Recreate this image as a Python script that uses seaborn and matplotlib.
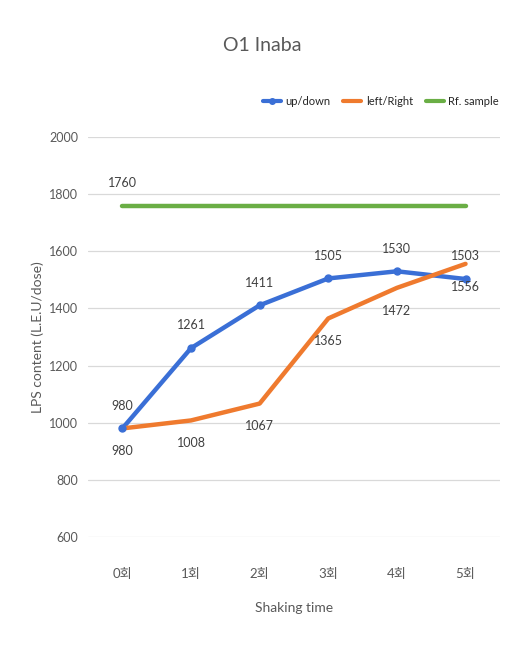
import matplotlib
matplotlib.use("Agg")
import matplotlib.pyplot as plt
import seaborn as sns
import pandas as pd

categories = ["0회", "1회", "2회", "3회", "4회", "5회"]
up_down = [980, 1261, 1411, 1505, 1530, 1503]
left_right = [980, 1008, 1067, 1365, 1472, 1556]
ref_sample = [1760, 1760, 1760, 1760, 1760, 1760]
series_names = ["up/down", "left/Right", "Rf. sample"]
yticks = [600, 800, 1000, 1200, 1400, 1600, 1800, 2000]

sns.set_theme(style="white")
plt.rcParams['font.family'] = ['Lato', 'Noto Sans CJK KR', 'DejaVu Sans']

rows = []
for name, vals in zip(series_names, [up_down, left_right, ref_sample]):
    for i, v in enumerate(vals):
        rows.append({"x": i, "value": v, "series": name})
df = pd.DataFrame(rows)

colors = {"up/down": "#3a6fd6", "left/Right": "#ef7a2e", "Rf. sample": "#6aae45"}

fig = plt.figure(figsize=(5.09, 6.70), dpi=100)
ax = fig.add_axes([0.173, 0.1985, 0.809, 0.597])

sns.lineplot(data=df, x="x", y="value", hue="series", palette=colors, ax=ax,
             linewidth=3.2, legend=False, sort=False)
# markers on blue
ax.plot(range(len(up_down)), up_down, 'o', color=colors["up/down"], markersize=5)

ax.set_xlim(-0.5, 5.5)
ax.set_ylim(600, 2000)
ax.set_yticks(yticks)
ax.set_yticklabels([str(t) for t in yticks], fontsize=9, color="#595959")
ax.set_xticks(range(len(categories)))
ax.set_xticklabels(categories, fontsize=9.5, color="#595959")
ax.tick_params(axis='x', pad=22, length=0)
ax.tick_params(axis='y', pad=7, length=0)
ax.grid(axis='y', color="#d9d9d9", linewidth=0.9)
for s in ax.spines.values():
    s.set_visible(False)

ax.set_xlabel("Shaking time", fontsize=10, color="#595959", labelpad=16)
ax.set_ylabel("LPS content (L.E.U/dose)", fontsize=10, color="#595959", labelpad=4)
fig.suptitle("O1 Inaba", x=0.515, y=0.945, fontsize=14, color="#595959")

for i, v in enumerate(up_down):
    ax.annotate(str(v), (i, v), xytext=(0, 12), textcoords="offset points",
                ha="center", va="bottom", fontsize=9, color="#404040")
for i, v in enumerate(left_right):
    ax.annotate(str(v), (i, v), xytext=(0, -12), textcoords="offset points",
                ha="center", va="top", fontsize=9, color="#404040")
ax.annotate(str(ref_sample[0]), (0, ref_sample[0]), xytext=(0, 12), textcoords="offset points",
            ha="center", va="bottom", fontsize=9, color="#404040")

from matplotlib.lines import Line2D
handles = [Line2D([0], [0], color=colors[n], linewidth=3,
                  marker='o' if n == "up/down" else None, markersize=4) for n in series_names]
fig.legend(handles, series_names, loc="center right", bbox_to_anchor=(1.0, 0.848),
           ncol=3, frameon=False, fontsize=8, handlelength=1.6, columnspacing=1.2,
           handletextpad=0.4)

fig.savefig("out.png", dpi=100, facecolor="white")
